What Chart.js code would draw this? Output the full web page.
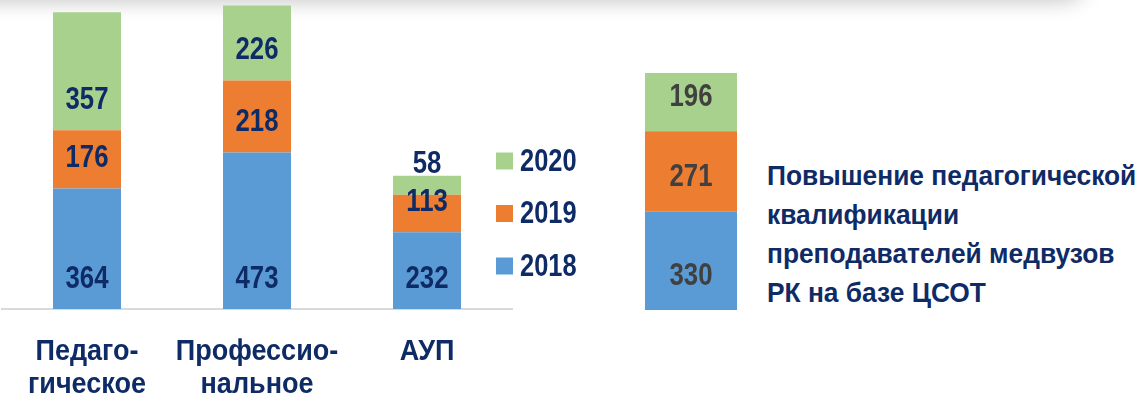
<!DOCTYPE html>
<html>
<head>
<meta charset="utf-8">
<script src="https://cdn.jsdelivr.net/npm/chart.js@4.4.1/dist/chart.umd.min.js"></script>
<style>
  html, body { margin: 0; padding: 0; background: #fff; }
  body { width: 1142px; height: 401px; position: relative; overflow: hidden; }
  /* header shadow strip */
  .topbar { position: absolute; left: -20px; top: -40px; width: 1110px; height: 40px;
            border-radius: 0 0 30px 0; box-shadow: 0 2px 20px rgba(0,0,0,0.22); background: #fff; }
  #left { position: absolute; left: 0; top: 0; }
  #right { position: absolute; left: 620px; top: 0; }
  .caption { position: absolute; left: 767px; top: 156px; color: #0f2b66;
             font: bold 28px/39px 'Liberation Sans', Arial, sans-serif;
             white-space: nowrap; transform: scaleX(0.94); transform-origin: 0 0; }
</style>
</head>
<body>
<div class="topbar"></div>
<canvas id="left" width="620" height="401"></canvas>
<canvas id="right" width="142" height="401"></canvas>
<div class="caption" id="caption"></div>
<script>
const years = ['2018', '2019', '2020'];
const colors = ['#5b9bd5', '#ed7d31', '#a9d18e'];

// staff by category
const categories = [['Педаго-', 'гическое'], ['Профессио-', 'нальное'], ['АУП']];
const staff2018 = [364, 473, 232];
const staff2019 = [176, 218, 113];
const staff2020 = [357, 226, 58];

// teacher training at the centre
const trainingLines = ['Повышение педагогической', 'квалификации', 'преподавателей медвузов', 'РК на базе ЦСОТ'];
const training2018 = [330];
const training2019 = [271];
const training2020 = [196];

const FONT = "'Liberation Sans', Arial, sans-serif";
const NAVY = '#0f2b66';

// bold text squeezed horizontally, like a narrow face
function narrowText(ctx, text, x, y, size, squeeze, align, baseline) {
  ctx.save();
  ctx.font = 'bold ' + size + 'px ' + FONT;
  ctx.textAlign = align;
  ctx.textBaseline = baseline;
  ctx.translate(x, y);
  ctx.scale(squeeze, 1);
  ctx.fillText(text, 0, 0);
  ctx.restore();
}

// value text sitting a fixed distance above the base of each segment
const baseLabels = {
  id: 'baseLabels',
  afterDatasetsDraw(chart, args, opts) {
    const ctx = chart.ctx;
    ctx.fillStyle = opts.color;
    chart.data.datasets.forEach((ds, i) => {
      chart.getDatasetMeta(i).data.forEach((bar, j) => {
        narrowText(ctx, String(ds.data[j]), bar.x, bar.base - opts.offset, 31, 0.83, 'center', 'middle');
      });
    });
  }
};

// category names under the axis, one line per array entry
const categoryNames = {
  id: 'categoryNames',
  afterDraw(chart, args, opts) {
    if (!opts.show) return;
    const ctx = chart.ctx;
    const xs = chart.scales.x;
    ctx.fillStyle = NAVY;
    chart.data.labels.forEach((lines, i) => {
      const x = xs.getPixelForValue(i);
      [].concat(lines).forEach((line, k) => {
        narrowText(ctx, line, x, opts.y + k * opts.lineHeight, 30, 0.9, 'center', 'alphabetic');
      });
    });
  }
};

// legend list drawn beside the last bar, newest year on top
const sideLegend = {
  id: 'sideLegend',
  afterDraw(chart, args, opts) {
    if (!opts.show) return;
    const ctx = chart.ctx;
    chart.data.datasets.slice().reverse().forEach((ds, k) => {
      const cy = opts.y + k * opts.step;
      ctx.fillStyle = ds.backgroundColor;
      ctx.fillRect(opts.x, cy - 8.5, 17, 17);
      ctx.fillStyle = NAVY;
      narrowText(ctx, ds.label, opts.x + 24, cy + 1, 31, 0.82, 'left', 'middle');
    });
  }
};

function makeSets(a, b, c) {
  return [a, b, c].map((d, i) => ({
    label: years[i],
    data: d,
    backgroundColor: colors[i],
    borderWidth: 0,
    categoryPercentage: 1
  }));
}

new Chart(document.getElementById('left'), {
  type: 'bar',
  data: { labels: categories, datasets: makeSets(staff2018, staff2019, staff2020) },
  options: {
    responsive: false,
    animation: false,
    devicePixelRatio: 1,
    datasets: { bar: { barPercentage: 0.4 } },
    layout: { padding: { left: 2, right: 108, top: 0, bottom: 92 } },
    scales: {
      x: {
        stacked: true,
        grid: { display: false, drawTicks: false },
        border: { display: true, color: '#d9d9d9', width: 2 },
        ticks: { display: false }
      },
      y: { stacked: true, display: false, min: 0, max: 934 }
    },
    plugins: {
      legend: { display: false },
      tooltip: { enabled: false },
      baseLabels: { color: NAVY, offset: 30 },
      categoryNames: { show: true, y: 360, lineHeight: 33 },
      sideLegend: { show: true, x: 496, y: 161, step: 52.5 }
    }
  },
  plugins: [baseLabels, categoryNames, sideLegend]
});

new Chart(document.getElementById('right'), {
  type: 'bar',
  data: { labels: [trainingLines.join(' ')], datasets: makeSets(training2018, training2019, training2020) },
  options: {
    responsive: false,
    animation: false,
    devicePixelRatio: 1,
    datasets: { bar: { barPercentage: 0.648 } },
    layout: { padding: { left: 0, right: 0, top: 0, bottom: 91 } },
    scales: {
      x: { stacked: true, display: false },
      y: { stacked: true, display: false, min: 0, max: 1042 }
    },
    plugins: {
      legend: { display: false },
      tooltip: { enabled: false },
      baseLabels: { color: '#404040', offset: 34 },
      categoryNames: { show: false },
      sideLegend: { show: false }
    }
  },
  plugins: [baseLabels, categoryNames, sideLegend]
});

document.getElementById('caption').innerHTML = trainingLines.join('<br>');
</script>
</body>
</html>
